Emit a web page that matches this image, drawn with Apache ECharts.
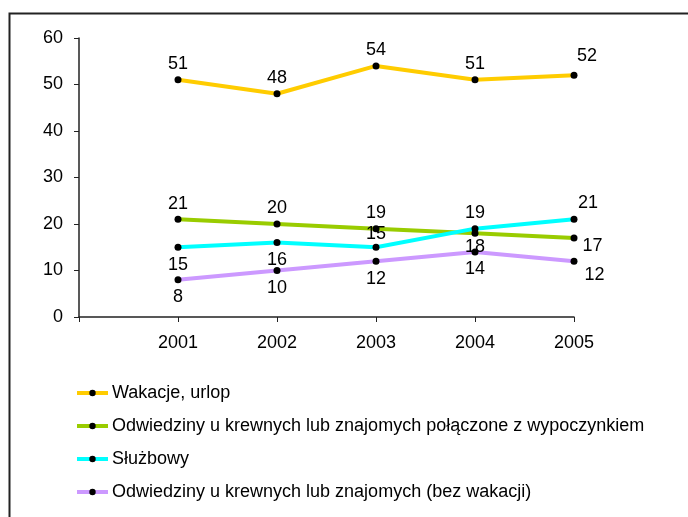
<!DOCTYPE html>
<html>
<head>
<meta charset="utf-8">
<script src="https://cdn.jsdelivr.net/npm/echarts@6/dist/echarts.min.js"></script>
<style>
  html, body { margin: 0; padding: 0; background: #fff; }
  #chart { width: 688px; height: 517px; }
</style>
</head>
<body>
<div id="chart"></div>
<script>
// dane
const years = [2001, 2002, 2003, 2004, 2005];
const names = [
  'Wakacje, urlop',
  'Odwiedziny u krewnych lub znajomych połączone z wypoczynkiem',
  'Służbowy',
  'Odwiedziny u krewnych lub znajomych (bez wakacji)'
];
const wakacje = [51, 48, 54, 51, 52];
const odwiedzinyWyp = [21, 20, 19, 18, 17];
const sluzbowy = [15, 16, 15, 19, 21];
const odwiedzinyBez = [8, 10, 12, 14, 12];
const yTicks = [0, 10, 20, 30, 40, 50, 60];

const colors = ['#FFCC00', '#99CC00', '#00FFFF', '#CC99FF'];
const values = [wakacje, odwiedzinyWyp, sluzbowy, odwiedzinyBez];

// gdzie stoją etykiety (styl)
const T = { position: 'top', distance: 3 };
const B = { position: 'bottom' };
const labelPos = [
  [T, T, T, T, { position: 'top', offset: [13, -2] }],
  [T, T, T, { position: 'bottom', distance: 1 }, { position: 'right', offset: [0, 8] }],
  [B, B, { position: 'top', distance: 1 }, T, { position: 'top', offset: [14, 1] }],
  [B, B, B, B, { position: 'right', offset: [2, 14] }]
];

let myChart = echarts.init(document.getElementById('chart'));
let font = 'Liberation Sans, Arial, sans-serif';

let series = values.map((vals, i) => ({
  name: names[i],
  type: 'line',
  data: vals.map((v, j) => ({
    value: [years[j], v],
    label: labelPos[i][j]
  })),
  symbol: 'circle',
  symbolSize: 7,
  itemStyle: { color: '#000' },
  lineStyle: { color: colors[i], width: 4 },
  label: {
    show: true,
    formatter: (p) => p.value[1],
    color: '#000',
    fontSize: 18,
    fontFamily: font
  },
  emphasis: { disabled: true },
  animation: false
}));

let option = {
  backgroundColor: '#fff',
  graphic: [{
    type: 'rect',
    left: 7, top: 11,
    shape: { width: 720, height: 540 },
    style: { fill: 'none', stroke: '#222', lineWidth: 2 },
    z: -1
  }],
  grid: { left: 79, right: 114, top: 38, bottom: 200 },
  legend: {
    orient: 'vertical',
    left: 70,
    top: 379,
    itemWidth: 31,
    itemHeight: 8,
    itemGap: 15,
    lineStyle: { width: 4 },
    textStyle: { color: '#000', fontSize: 18, fontFamily: font, padding: [0, 0, 0, -1] },
    data: names
  },
  xAxis: {
    type: 'value',
    min: 2000,
    max: 2005,
    interval: 1,
    axisLine: { show: true, lineStyle: { color: '#222', width: 1.5 } },
    axisTick: { show: true, length: 5, lineStyle: { color: '#222' } },
    splitLine: { show: false },
    axisLabel: {
      color: '#000', fontSize: 18, fontFamily: font, margin: 17,
      formatter: (v) => (years.indexOf(v) >= 0 ? String(v) : '')
    }
  },
  yAxis: {
    type: 'value',
    min: yTicks[0],
    max: yTicks[yTicks.length - 1],
    interval: 10,
    axisLine: { show: true, lineStyle: { color: '#222', width: 1.5 } },
    axisTick: { show: true, length: 5, lineStyle: { color: '#222' } },
    splitLine: { show: false },
    axisLabel: { color: '#000', fontSize: 18, fontFamily: font, margin: 16 }
  },
  series: series
};
myChart.setOption(option);
</script>
</body>
</html>
